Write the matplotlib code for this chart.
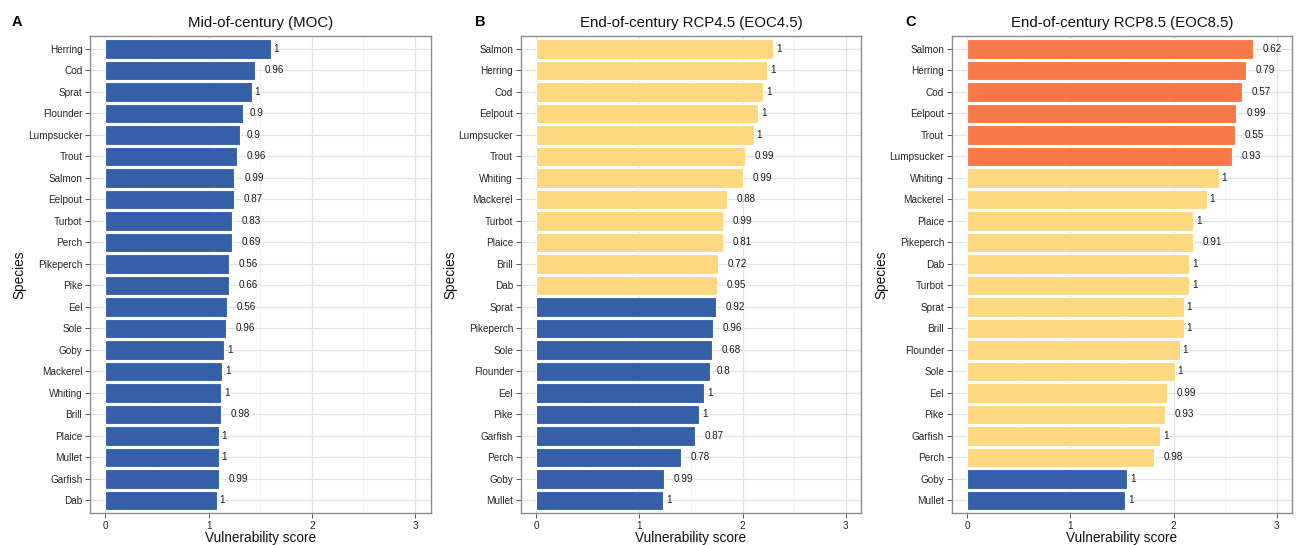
import numpy as np
import matplotlib
matplotlib.use("Agg")
import matplotlib.pyplot as plt
import matplotlib.transforms as mtransforms

plt.rcParams['font.family'] = ['Liberation Sans', 'DejaVu Sans']

# Panel A - mid-of-century
moc_species = ['Herring', 'Cod', 'Sprat', 'Flounder', 'Lumpsucker', 'Trout', 'Salmon',
               'Eelpout', 'Turbot', 'Perch', 'Pikeperch', 'Pike', 'Eel', 'Sole', 'Goby',
               'Mackerel', 'Whiting', 'Brill', 'Plaice', 'Mullet', 'Garfish', 'Dab']
moc_score = [1.60, 1.45, 1.42, 1.33, 1.30, 1.27, 1.25, 1.25, 1.23, 1.23, 1.20, 1.20,
             1.18, 1.17, 1.15, 1.13, 1.12, 1.12, 1.10, 1.10, 1.10, 1.08]
moc_label = ['1', '0.96', '1', '0.9', '0.9', '0.96', '0.99', '0.87', '0.83', '0.69', '0.56',
             '0.66', '0.56', '0.96', '1', '1', '1', '0.98', '1', '1', '0.99', '1']
moc_class = ['low'] * 22

# Panel B - end-of-century RCP4.5
eoc45_species = ['Salmon', 'Herring', 'Cod', 'Eelpout', 'Lumpsucker', 'Trout', 'Whiting',
                 'Mackerel', 'Turbot', 'Plaice', 'Brill', 'Dab', 'Sprat', 'Pikeperch', 'Sole',
                 'Flounder', 'Eel', 'Pike', 'Garfish', 'Perch', 'Goby', 'Mullet']
eoc45_score = [2.30, 2.24, 2.20, 2.15, 2.11, 2.02, 2.00, 1.85, 1.81, 1.81, 1.76, 1.75,
               1.74, 1.71, 1.70, 1.68, 1.63, 1.58, 1.54, 1.40, 1.24, 1.23]
eoc45_label = ['1', '1', '1', '1', '1', '0.99', '0.99', '0.88', '0.99', '0.81', '0.72', '0.95',
               '0.92', '0.96', '0.68', '0.8', '1', '1', '0.87', '0.78', '0.99', '1']
eoc45_class = ['moderate'] * 12 + ['low'] * 10

# Panel C - end-of-century RCP8.5
eoc85_species = ['Salmon', 'Herring', 'Cod', 'Eelpout', 'Trout', 'Lumpsucker', 'Whiting',
                 'Mackerel', 'Plaice', 'Pikeperch', 'Dab', 'Turbot', 'Sprat', 'Brill',
                 'Flounder', 'Sole', 'Eel', 'Pike', 'Garfish', 'Perch', 'Goby', 'Mullet']
eoc85_score = [2.77, 2.70, 2.66, 2.61, 2.60, 2.57, 2.44, 2.32, 2.19, 2.19, 2.15, 2.15,
               2.10, 2.10, 2.06, 2.01, 1.94, 1.92, 1.87, 1.81, 1.55, 1.53]
eoc85_label = ['0.62', '0.79', '0.57', '0.99', '0.55', '0.93', '1', '1', '1', '0.91', '1', '1',
               '1', '1', '1', '1', '0.99', '0.93', '1', '0.98', '1', '1']
eoc85_class = ['high'] * 6 + ['moderate'] * 14 + ['low'] * 2

class_colors = {'low': '#3560A8', 'moderate': '#FDD881', 'high': '#F7794A'}

panels = [
    ('A', 'Mid-of-century (MOC)', moc_species, moc_score, moc_label, moc_class, 90, 12),
    ('B', 'End-of-century RCP4.5 (EOC4.5)', eoc45_species, eoc45_score, eoc45_label, eoc45_class, 520.7, 475),
    ('C', 'End-of-century RCP8.5 (EOC8.5)', eoc85_species, eoc85_score, eoc85_label, eoc85_class, 951.7, 905),
]

W, H = 1299, 545
fig = plt.figure(figsize=(W / 100, H / 100), dpi=100)

ax_top, ax_bottom = 36, 513.3
ax_w = 340.5
value_texts = []

for letter, title, species, score, label, klass, left, letter_x in panels:
    ax = fig.add_axes([left / W, 1 - ax_bottom / H, ax_w / W, (ax_bottom - ax_top) / H])
    n = len(species)
    ypos = np.arange(n)[::-1]
    ax.barh(ypos, score, height=0.9, color=[class_colors[k] for k in klass],
            edgecolor='white', linewidth=0.8, zorder=2)
    for y, v, lab in zip(ypos, score, label):
        t = ax.text(v, y, lab, ha='left', va='center', fontsize=7.1, color='#1a1a1a', zorder=3)
        value_texts.append((ax, t))

    ax.set_xlim(-0.15, 3.15)
    ax.set_ylim(-0.6, n - 0.4)
    ax.set_yticks(ypos)
    ax.set_yticklabels(species)
    ax.set_xticks([0, 1, 2, 3])
    ax.set_xticks([0.5, 1.5, 2.5], minor=True)
    ax.tick_params(axis='both', which='major', length=3.5, width=0.7, color='#555555',
                   labelsize=7.2, labelcolor='#262626', pad=2)
    ax.tick_params(axis='x', which='minor', length=0)
    ax.grid(True, which='major', color='#E3E3E3', linewidth=0.9, zorder=0)
    ax.grid(True, which='minor', axis='x', color='#EDEDED', linewidth=0.5, zorder=0)
    ax.set_axisbelow(True)
    for s in ax.spines.values():
        s.set_color('#8C8C8C')
        s.set_linewidth(1.0)

    ax.set_title(title, fontsize=10.8, pad=6.5, color='#111111')
    ax.set_xlabel('Vulnerability score', fontsize=9.8, color='#111111')
    ax.xaxis.set_label_coords(0.5, -0.038)
    ax.set_ylabel('Species', fontsize=9.8, color='#111111')
    ax.yaxis.set_label_coords(-0.187, 0.5)

    fig.text(letter_x / W, 1 - 26 / H, letter, fontsize=10.5, fontweight='bold', va='baseline')

# shift value labels right by half their own width (like hjust = -0.5)
fig.canvas.draw()
renderer = fig.canvas.get_renderer()
for ax, t in value_texts:
    w = t.get_window_extent(renderer).width
    t.set_transform(ax.transData + mtransforms.ScaledTranslation(0.5 * w / fig.dpi, 0, fig.dpi_scale_trans))

fig.savefig('out.png', dpi=100)
